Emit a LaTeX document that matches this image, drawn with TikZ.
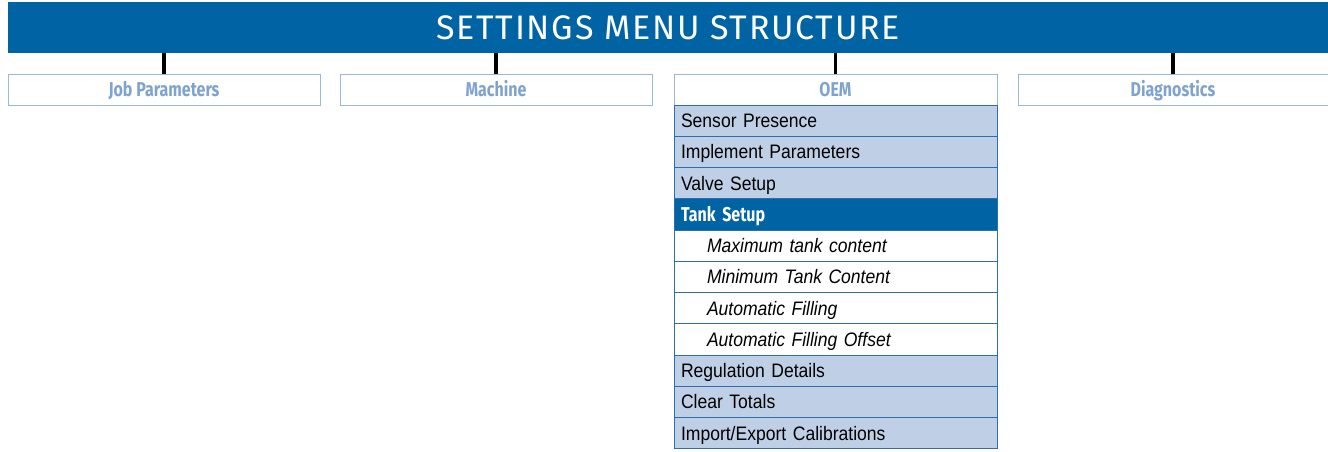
\documentclass[tikz,border=0pt]{standalone}
\usepackage{fontspec}
\setmainfont{Liberation Sans}[FakeStretch=0.9]
\newfontfamily\headfont[FakeStretch=0.8]{Fira Sans}
\newfontfamily\titlefont[LetterSpace=5]{Fira Sans}
\usetikzlibrary{positioning}

\definecolor{barblue}{HTML}{0064A4}
\definecolor{rowfill}{HTML}{BFD0E6}
\definecolor{headline}{HTML}{9BB8DC}
\definecolor{headtext}{HTML}{7FA3CF}
\definecolor{rowline}{HTML}{2F6DAE}

\tikzset{
  titlebar/.style={fill=barblue, text=white, anchor=north west, inner sep=0pt,
    font=\titlefont\fontsize{34}{40}\selectfont},
  headbox/.style={draw=headline, line width=1pt, fill=white, anchor=north west,
    minimum height=31pt, inner sep=0pt, outer sep=0pt, text=headtext,
    text height=17pt, text depth=3pt,
    font=\headfont\bfseries\fontsize{20}{24}\selectfont},
  stem/.style={line width=3.5pt, black},
  menurow/.style={draw=rowline, line width=0.9pt, fill=rowfill, anchor=north,
    minimum height=31.25pt, text width=309pt, inner xsep=7pt, inner ysep=0pt,
    outer sep=0pt, text height=17pt, text depth=3pt,
    align=left, font=\fontsize{19.5}{22}\selectfont},
  subrow/.style={menurow, fill=white, font=\itshape\fontsize{19.5}{22}\selectfont,
    execute at begin node=\hspace*{26pt}},
  activerow/.style={menurow, fill=barblue, text=white,
    font=\headfont\bfseries\fontsize{20}{24}\selectfont}
}

\begin{document}
\begin{tikzpicture}[x=1pt, y=-1pt]
  \useasboundingbox (0,0) rectangle (1328,451);

  % Title bar
  \node[titlebar, minimum width=1320pt, minimum height=51pt] (title) at (8,2) {SETTINGS MENU STRUCTURE};

  % Top level menus
  \node[headbox, minimum width=312pt] (job) at (8,74) {Job Parameters};
  \node[headbox, minimum width=312pt] (machine) at (340,74) {Machine};
  \node[headbox, minimum width=323pt] (oem) at (674,74) {OEM};
  \node[headbox, minimum width=310pt] (diag) at (1018,74) {Diagnostics};

  \foreach \m in {job, machine, oem, diag}
    \draw[stem] (\m.north) -- (\m.north |- title.south);

  % OEM sub menu
  \node[menurow, below=0pt of oem] (sensor) {Sensor Presence};
  \node[menurow, below=0pt of sensor] (implement) {Implement Parameters};
  \node[menurow, below=0pt of implement] (valve) {Valve Setup};
  \node[activerow, below=0pt of valve] (tank) {Tank Setup};
  \node[subrow, below=0pt of tank] (tankmax) {Maximum tank content};
  \node[subrow, below=0pt of tankmax] (tankmin) {Minimum Tank Content};
  \node[subrow, below=0pt of tankmin] (autofill) {Automatic Filling};
  \node[subrow, below=0pt of autofill] (autooffset) {Automatic Filling Offset};
  \node[menurow, below=0pt of autooffset] (regulation) {Regulation Details};
  \node[menurow, below=0pt of regulation] (totals) {Clear Totals};
  \node[menurow, below=0pt of totals] (calib) {Import/Export Calibrations};
\end{tikzpicture}
\end{document}
